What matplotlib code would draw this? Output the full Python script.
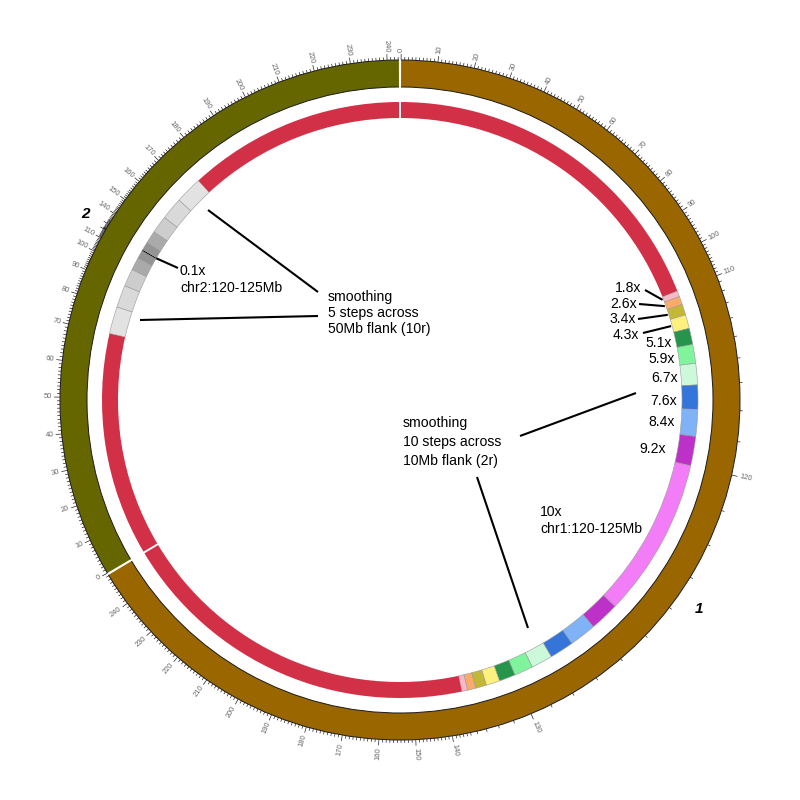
import numpy as np
import matplotlib
matplotlib.use('Agg')
import matplotlib.pyplot as plt
from matplotlib.patches import Wedge, Arc
from matplotlib.collections import LineCollection

plt.rcParams['font.family'] = ['Liberation Sans', 'DejaVu Sans']

# ---------------- data ----------------
chrom_names = ['1', '2']
chrom_lengths_mb = [249.25, 243.2]
chrom_colors = ['#996600', '#666600']
zoom_regions = [(120, 125), (120, 125)]
zoom_factors = [10.0, 0.1]
flank_mb = [10, 50]
chr1_step_scales = [1.8, 2.6, 3.4, 4.3, 5.1, 5.9, 6.7, 7.6, 8.4, 9.2]
chr2_step_scales = [0.85, 0.7, 0.55, 0.4, 0.25]
chr1_step_colors = ['#f8b9c6', '#fbab69', '#c3b737', '#fdf07e', '#24954a',
                    '#7ff49c', '#ccf9da', '#3574d8', '#80b2f7', '#bd31c9']
chr1_core_color = '#f27df7'
chr2_step_colors = ['#e2e2e2', '#d9d9d9', '#cdcdcd', '#aaaaaa', '#949494']
chr2_core_color = '#000000'
track_color = '#d23047'
tick_minor_mb = 1
tick_major_mb = 10

step_scales = [chr1_step_scales, chr2_step_scales]
step_colors = [chr1_step_colors, chr2_step_colors]
core_colors = [chr1_core_color, chr2_core_color]

# ---------------- scale ----------------
def build_segments(i):
    L = chrom_lengths_mb[i]
    z0, z1 = zoom_regions[i]
    fl = flank_mb[i]
    st = step_scales[i]
    cols = step_colors[i]
    n = len(st)
    sl = fl / n
    segs = [(0.0, z0 - fl, 1.0, track_color)]
    for k in range(n):
        segs.append((z0 - fl + k * sl, z0 - fl + (k + 1) * sl, st[k], cols[k]))
    segs.append((z0, z1, zoom_factors[i], core_colors[i]))
    for k in range(n):
        segs.append((z1 + k * sl, z1 + (k + 1) * sl, st[n - 1 - k], cols[n - 1 - k]))
    segs.append((z1 + fl, L, 1.0, track_color))
    return segs

segments = [build_segments(i) for i in range(2)]
scaled_len = [sum((e - s) * f for s, e, f, _ in sg) for sg in segments]
gap = 0.6
total = sum(scaled_len) + gap * len(chrom_names)
offsets = []
acc = gap / 2
for sl_ in scaled_len:
    offsets.append(acc)
    acc += sl_ + gap

def angle(i, p):
    u = offsets[i]
    for s, e, f, _ in segments[i]:
        if p >= e:
            u += (e - s) * f
        else:
            u += (max(p, s) - s) * f
            break
    return u / total * 360.0

def xy(theta, r):
    t = np.deg2rad(theta)
    return r * np.sin(t), r * np.cos(t)

def px(x, y):
    return x - 400, 400 - y

# ---------------- figure ----------------
fig = plt.figure(figsize=(8, 8), dpi=100)
ax = fig.add_axes([0, 0, 1, 1])
ax.set_xlim(-400, 400)
ax.set_ylim(-400, 400)
ax.set_aspect('equal')
ax.axis('off')

R_IDEO_OUT, R_IDEO_IN = 340, 313
R_TR_OUT, R_TR_IN = 298, 282

# ideograms
for i in range(2):
    a0 = angle(i, 0)
    a1 = angle(i, chrom_lengths_mb[i])
    ax.add_patch(Wedge((0, 0), R_IDEO_OUT, 90 - a1, 90 - a0,
                       width=R_IDEO_OUT - R_IDEO_IN, facecolor=chrom_colors[i],
                       edgecolor='none'))
    for r in (R_IDEO_OUT, R_IDEO_IN):
        ax.add_patch(Arc((0, 0), 2 * r, 2 * r, theta1=90 - a1, theta2=90 - a0,
                         color='#1a1a1a', lw=0.7))

# track with smoothing blocks
for i in range(2):
    for s, e, f, c in segments[i]:
        a0, a1 = angle(i, s), angle(i, e)
        is_block = c != track_color
        ax.add_patch(Wedge((0, 0), R_TR_OUT, 90 - a1, 90 - a0,
                           width=R_TR_OUT - R_TR_IN, facecolor=c,
                           edgecolor='#9a9a9a' if is_block else 'none',
                           lw=0.4 if is_block else 0))

# ticks
chrom_label_angles = [124.9, 300.6]
tick_segs = []
for i in range(2):
    L = chrom_lengths_mb[i]
    for p in np.arange(0, L + 1e-6, tick_minor_mb):
        th = angle(i, p)
        major = (round(p) % tick_major_mb) == 0
        ln = 6 if major else 3
        tick_segs.append([xy(th, R_IDEO_OUT), xy(th, R_IDEO_OUT + ln)])
    for p in range(0, int(L) + 1, tick_major_mb):
        th = angle(i, p)
        if abs(th - chrom_label_angles[i]) < 1.4:
            continue
        x, y = xy(th, R_IDEO_OUT + 8)
        if th <= 180:
            rot, ha = 90 - th, 'left'
        else:
            rot, ha = 270 - th, 'right'
        ax.text(x, y, str(p), rotation=rot, rotation_mode='anchor', ha=ha,
                va='center', fontsize=5.4, color='#666666')
ax.add_collection(LineCollection(tick_segs, colors='#222222', linewidths=0.5))

# chromosome labels
for i in range(2):
    x, y = xy(chrom_label_angles[i], 365)
    ax.text(x, y, chrom_names[i], fontsize=11, fontweight='bold', fontstyle='italic',
            ha='center', va='center', color='black')

# ---------------- annotations ----------------
fs = 10.1
lw = 1.5

def t(x, y, s, **kw):
    X, Y = px(x, y)
    ax.text(X, Y, s, fontsize=fs, ha='left', va='center', color='black', **kw)

def line(p0, p1):
    ax.plot([p0[0], p1[0]], [p0[1], p1[1]], color='black', lw=lw, solid_capstyle='butt')

# chr1 step labels
step_text_pos = [(615, 288), (610, 304), (609, 319), (613, 335), (645, 343),
                 (648, 359), (651, 378), (650, 401), (648, 422), (639, 449)]
leader_starts = [(645, 290), (639, 304), (638, 319), (643, 333)]
z0 = zoom_regions[0][0] - flank_mb[0]
sl = flank_mb[0] / len(chr1_step_scales)
for k, sc in enumerate(chr1_step_scales):
    t(*step_text_pos[k], f'{sc}x')
    if k < len(leader_starts):
        th = angle(0, z0 + (k + 0.5) * sl)
        line(px(*leader_starts[k]), xy(th, R_TR_IN - 1))

t(540, 512, f'{zoom_factors[0]:g}x')
t(540, 529, f'chr1:{zoom_regions[0][0]}-{zoom_regions[0][1]}Mb')

t(403, 423, 'smoothing')
t(403, 442, f'{len(chr1_step_scales)} steps across')
t(403, 461, f'{flank_mb[0]}Mb flank (2r)')
line(px(520, 436), px(636, 393))
line(px(477, 477), px(528, 628))

t(328, 297, 'smoothing')
t(328, 313, f'{len(chr2_step_scales)} steps across')
t(328, 329, f'{flank_mb[1]}Mb flank (10r)')
line(px(208, 210), px(318, 292))
line(px(140, 320), px(318, 316))

t(180, 271, f'{zoom_factors[1]:g}x')
t(180, 288, f'chr2:{zoom_regions[1][0]}-{zoom_regions[1][1]}Mb')
thc = angle(1, (zoom_regions[1][0] + zoom_regions[1][1]) / 2)
line(xy(thc, R_TR_IN), px(178, 268))

fig.savefig('out.png', dpi=100, facecolor='white')
